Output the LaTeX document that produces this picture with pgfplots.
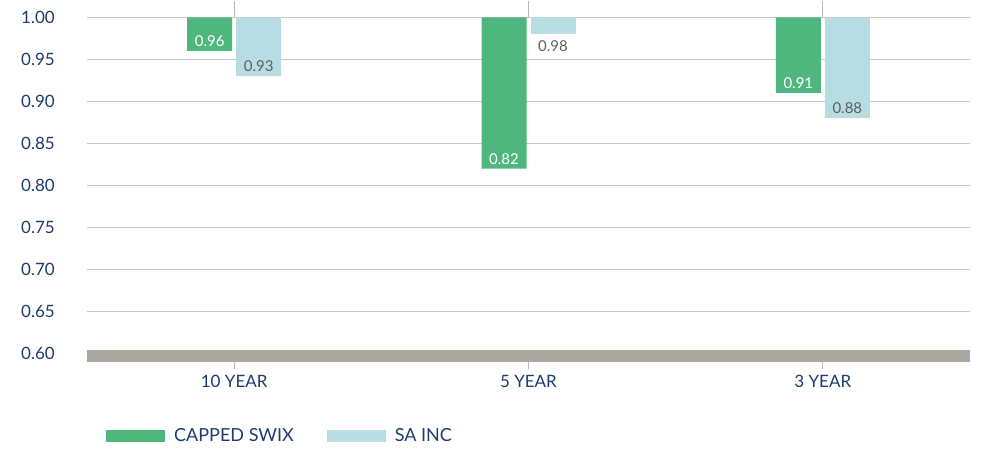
\documentclass[border=0pt]{standalone}
\usepackage{pgfplots}
\pgfplotsset{compat=1.18}
\usepackage{pgfplotstable}
\usepackage{fontspec}
\setmainfont{Lato}
\definecolor{navy}{HTML}{1F3C6E}
\definecolor{cgreen}{HTML}{4FB77E}
\definecolor{cblue}{HTML}{B7DCE2}
\definecolor{band}{HTML}{AAA9A1}
\definecolor{gridc}{HTML}{C8C8C0}
\definecolor{lblgray}{HTML}{5E5E5E}
\pgfplotstableread{
x v
0 0.96
1 0.82
2 0.91
}\swix
\pgfplotstableread{
x v
0 0.93
2 0.88
}\sainc
\pgfplotstableread{
x v
1 0.98
}\saincb
\begin{document}
\begin{tikzpicture}
\path[use as bounding box] (-87pt,-94.7pt) rectangle (906pt,353.3pt);
\begin{axis}[
  at={(0,0)}, anchor=south west,
  scale only axis, width=883pt, height=336pt,
  clip=false,
  ybar, bar width=45pt,
  xmin=-0.5, xmax=2.5, ymin=-0.4, ymax=0,
  xtick={0,1,2}, xticklabels={10 YEAR,5 YEAR,3 YEAR},
  ytick={-0.4,-0.35,-0.3,-0.25,-0.2,-0.15,-0.1,-0.05,0},
  yticklabels={0.60,0.65,0.70,0.75,0.80,0.85,0.90,0.95,1.00},
  axis line style={draw=none},
  ymajorgrids, grid style={gridc, line width=1.3pt},
  major tick length=16pt, tick align=outside,
  xtick style={draw=gridc!80!gray, line width=1pt},
  ytick style={draw=none},
  ticklabel style={font=\fontsize{17}{20}\selectfont, text=navy},
  yticklabel style={anchor=east, inner sep=0pt, xshift=-16pt},
  xticklabel style={anchor=north, inner sep=0pt, yshift=-6pt},
  nodes near coords,
  point meta=explicit symbolic,
  every node near coord/.append style={font=\fontsize{15}{18}\selectfont, anchor=south, inner sep=0pt, yshift=4pt},
  legend style={at={(axis description cs:0,0)}, anchor=west, xshift=19pt, yshift=-82.7pt,
    draw=none, fill=none, inner sep=0pt, row sep=0pt,
    nodes={inner sep=0pt, text=navy, font=\fontsize{18}{21}\selectfont},
    /tikz/every odd column/.append style={column sep=9pt},
    /tikz/every even column/.append style={column sep=33pt}},
  legend columns=2,
  legend image code/.code={\fill[#1] (0pt,-6pt) rectangle (59pt,6pt);},
]
\addplot[fill=cgreen, draw=none, bar shift=-24.5pt, every node near coord/.append style={text=white}]
  table[x=x, y expr=\thisrow{v}-1, meta=v] {\swix};
\addlegendentry{CAPPED SWIX}
\addplot[fill=cblue, draw=none, bar shift=24.5pt, every node near coord/.append style={text=lblgray}]
  table[x=x, y expr=\thisrow{v}-1, meta=v] {\sainc};
\addlegendentry{SA INC}
\addplot[forget plot, fill=cblue, draw=none, bar shift=24.5pt, every node near coord/.append style={text=lblgray, anchor=north, yshift=-10.5pt}]
  table[x=x, y expr=\thisrow{v}-1, meta=v] {\saincb};
\fill[band] ([yshift=3.5pt]axis description cs:0,0) rectangle ([yshift=-8.5pt]axis description cs:1,0);
\end{axis}
\end{tikzpicture}
\end{document}
